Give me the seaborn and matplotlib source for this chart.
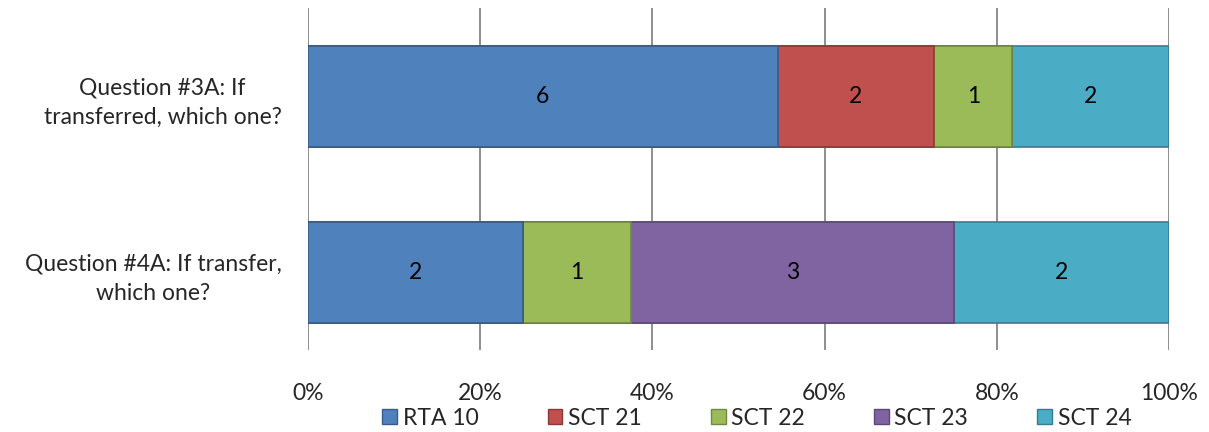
import numpy as np
import pandas as pd
import matplotlib
matplotlib.use('Agg')
import matplotlib.pyplot as plt
import seaborn as sns
from matplotlib.patches import Patch

# data
questions = ['Question #3A: If\ntransferred, which one?',
             'Question #4A: If transfer,\nwhich one?']
series = ['RTA 10', 'SCT 21', 'SCT 22', 'SCT 23', 'SCT 24']
q3a_counts = [6, 2, 1, 0, 2]
q4a_counts = [2, 0, 1, 3, 2]
xticks = [0, 20, 40, 60, 80, 100]

colors = ['#4F81BD', '#C0504D', '#9BBB59', '#8064A2', '#4BACC6']
edges = ['#385D8A', '#8C3836', '#71893F', '#5C4776', '#357D91']

sns.set_theme(style='white')
plt.rcParams['font.family'] = ['Lato', 'DejaVu Sans']
fs = 16.5

counts = np.array([q3a_counts, q4a_counts], dtype=float)
pct = counts / counts.sum(axis=1, keepdims=True) * 100
cum = np.cumsum(pct, axis=1)

fig = plt.figure(figsize=(12.09, 4.32), dpi=100)
ax = fig.add_axes([308 / 1209, 1 - 350 / 432, 861 / 1209, 342 / 432])

# stacked bars: draw cumulative totals back to front
for i in reversed(range(len(series))):
    df = pd.DataFrame({'q': questions, 'v': cum[:, i]})
    sns.barplot(data=df, x='v', y='q', orient='h', color=colors[i],
                saturation=1, width=0.574, edgecolor=edges[i], linewidth=1.2,
                ax=ax, zorder=3)

# count labels in segment centres
for r in range(len(questions)):
    left = 0
    for i in range(len(series)):
        if counts[r, i] > 0:
            ax.text(left + pct[r, i] / 2, r, f'{int(counts[r, i])}',
                    ha='center', va='center', fontsize=fs, color='black', zorder=4)
        left += pct[r, i]

ax.set_xlim(0, 100)
ax.set_ylim(1.44, -0.503)
ax.set_xticks(xticks)
ax.set_xticklabels([f'{t}%' for t in xticks], fontsize=fs)
ax.set_yticks(range(len(questions)))
ax.set_yticklabels(questions, fontsize=fs, multialignment='center', linespacing=1.5)
ax.set_xlabel('')
ax.set_ylabel('')
ax.xaxis.grid(True, color='#868686', linewidth=1.3)
ax.set_axisbelow(True)
for s in ax.spines.values():
    s.set_visible(False)
ax.tick_params(axis='x', length=0, pad=24)
ax.tick_params(axis='y', length=0, pad=19)

handles = [Patch(facecolor=c, edgecolor=e, linewidth=1) for c, e in zip(colors, edges)]
fig.legend(handles, series, loc='center', bbox_to_anchor=(0.626, 0.032), ncol=5,
           frameon=False, fontsize=fs, handlelength=0.65, handleheight=0.65,
           handletextpad=0.25, columnspacing=3.0, borderpad=0)

fig.savefig('out.png', dpi=100)
